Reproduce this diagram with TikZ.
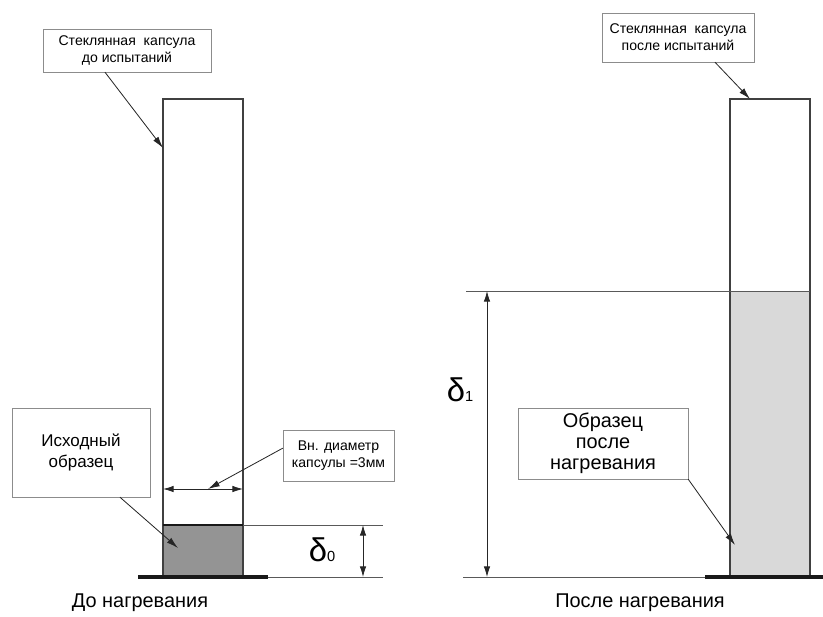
\documentclass[tikz,border=0pt]{standalone}
\usepackage{fontspec}
\setmainfont{Liberation Sans}
\usetikzlibrary{arrows.meta}

\tikzset{
  callout/.style={draw=black!45, fill=white, align=center, inner sep=1pt},
  pointer/.style={-{Latex[length=10pt,width=5.5pt]}, line width=0.7pt, black!85},
  dimline/.style={{Latex[length=9pt,width=5.5pt]}-{Latex[length=9pt,width=5.5pt]},
    line width=0.7pt, black!85},
  glass/.style={line width=1.1pt, black!75},
  thinline/.style={line width=0.6pt, black!65},
  baseline/.style={line width=3pt, black!90},
}

\begin{document}
\begin{tikzpicture}[x=0.03cm, y=-0.03cm]
    \useasboundingbox (0,0) rectangle (823,616);

    % before heating
    \fill[black!42] (163,525) rectangle (243,577);
    \draw[glass] (163,99) rectangle (243,577);
    \coordinate (gL) at (163,148);
    \coordinate (smL) at (178,548);
    \draw[line width=2.4pt, black!90] (163,525) -- (243,525);
    \draw[thinline] (243,525) -- (383,525);
    \draw[thinline] (268,577) -- (383,577);
    \draw[baseline] (138,577) -- (268,577);
    \coordinate (d0top) at (363,525);
    \coordinate (d0bot) at (363,577);
    \draw[dimline] (d0top) -- (d0bot);
    \node (d0) at (322,550) {\fontsize{28}{28}\selectfont δ\fontsize{12.5}{12.5}\selectfont 0};
    \coordinate (diaA) at (163,489);
    \coordinate (diaB) at (243,489);
    \coordinate (diaM) at (208,489);
    \draw[dimline] (diaA) -- (diaB);

    \node[callout, minimum width=5.04cm, minimum height=1.29cm,
      font=\fontsize{12}{14.5}\selectfont] (topL) at (127,50.5)
      {Стеклянная~~капсула\\до испытаний};
    \draw[pointer] ([xshift=-0.66cm]topL.south) -- (gL);
    \node[callout, minimum width=3.33cm, minimum height=1.53cm,
      font=\fontsize{12}{14.5}\selectfont] (diam) at (338.5,455.5)
      {Вн. диаметр\\капсулы =3мм};
    \draw[pointer] ([yshift=0.22cm]diam.west) -- (diaM);
    \node[callout, minimum width=4.14cm, minimum height=2.67cm,
      font=\fontsize{14.5}{18.5}\selectfont] (srcL) at (81,452.5)
      {Исходный\\образец};
    \draw[pointer] ([xshift=1.17cm]srcL.south) -- (smL);
    \node[font=\fontsize{17}{18}\selectfont] (capL) at (140,603) {До нагревания};

    % after heating
    \fill[black!15] (730,291) rectangle (810,577);
    \draw[glass] (730,99) rectangle (810,577);
    \coordinate (gR) at (750,99);
    \coordinate (smR) at (735,545);
    \draw[thinline] (466,291) -- (810,291);
    \draw[thinline] (463,577) -- (705,577);
    \draw[baseline] (705,577) -- (823,577);
    \coordinate (d1top) at (487,291);
    \coordinate (d1bot) at (487,577);
    \draw[dimline] (d1top) -- (d1bot);
    \node (d1) at (460,390) {\fontsize{28}{28}\selectfont δ\fontsize{12.5}{12.5}\selectfont 1};

    \node[callout, minimum width=4.56cm, minimum height=1.47cm,
      font=\fontsize{12}{14.5}\selectfont] (topR) at (678,37.5)
      {Стеклянная~~капсула\\после испытаний};
    \draw[pointer] ([xshift=1.11cm]topR.south) -- (gR);
    \node[callout, minimum width=5.1cm, minimum height=2.13cm,
      font=\fontsize{17}{18}\selectfont] (smpR) at (603,443.5)
      {Образец\\после\\нагревания};
    \draw[pointer] (smpR.south east) -- (smR);
    \node[font=\fontsize{17}{18}\selectfont] (capR) at (640,603) {После нагревания};
\end{tikzpicture}
\end{document}
